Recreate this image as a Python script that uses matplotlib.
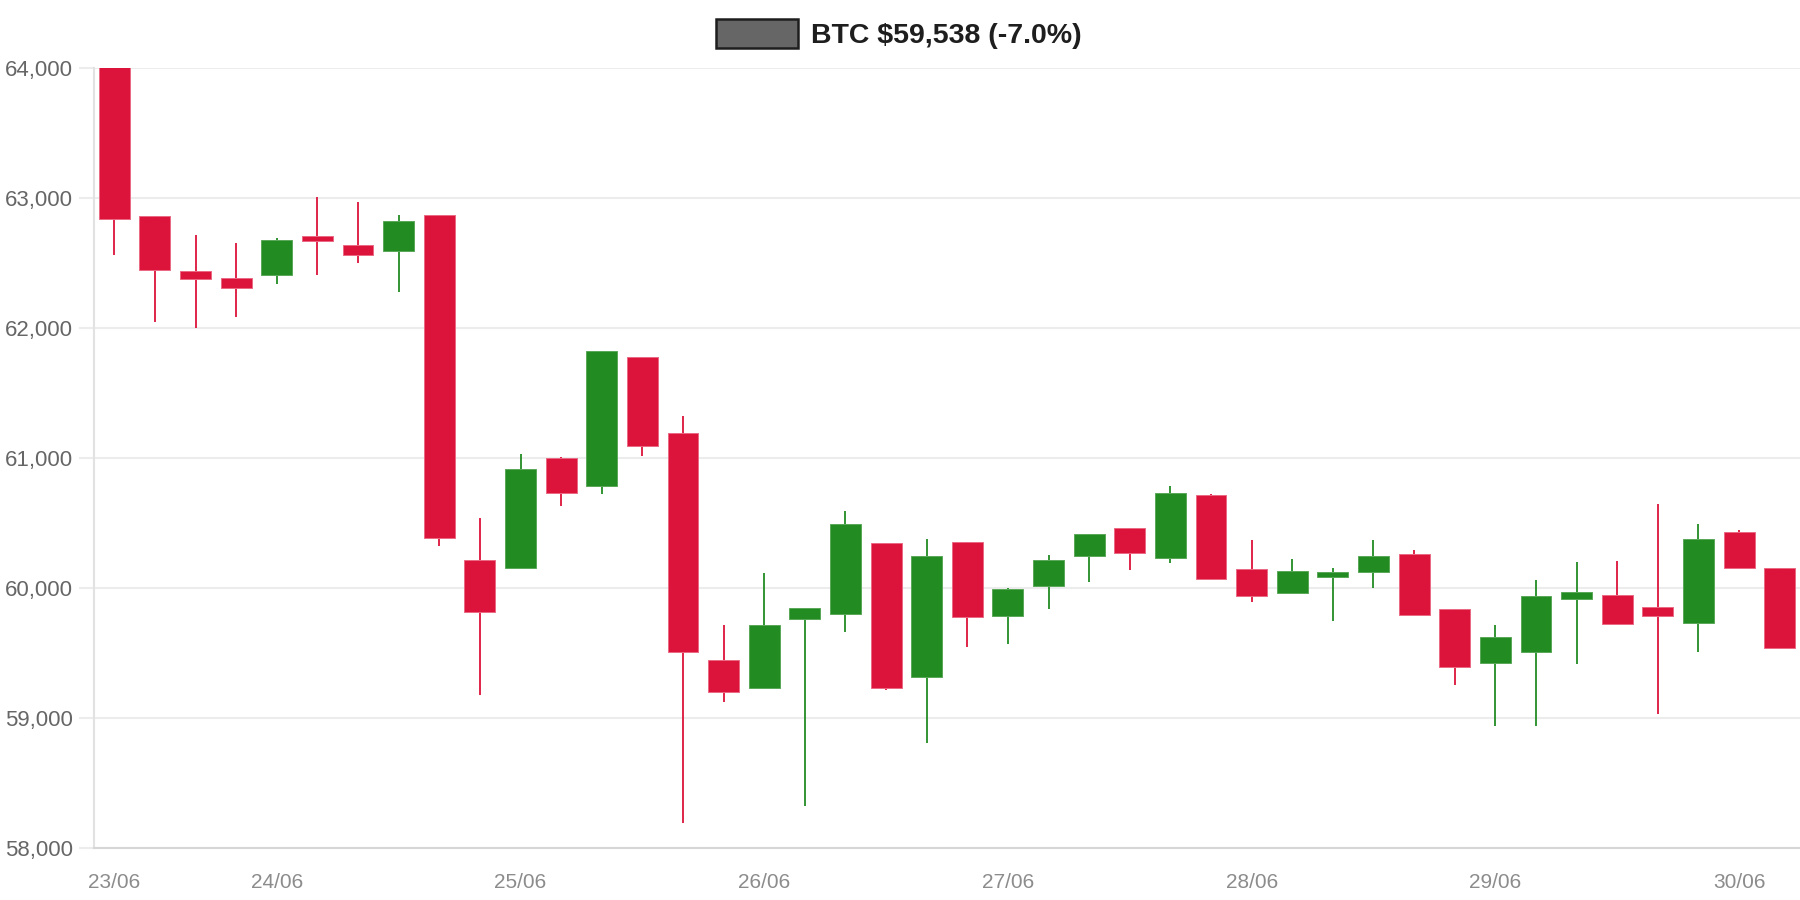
import matplotlib
matplotlib.use('Agg')
import matplotlib.pyplot as plt
from matplotlib.patches import Rectangle
import pandas as pd

plt.rcParams['font.family'] = ['Liberation Sans', 'DejaVu Sans']

# 4h BTC candles, 23/06 08:00 -> 30/06 04:00
opens = [64020, 62859, 62436, 62382, 62408, 62705, 62641, 62592, 62872, 60213,
         60151, 61000, 60782, 61777, 61195, 59449, 59233, 59764, 59800, 60344,
         59313, 60356, 59782, 60015, 60249, 60464, 60228, 60715, 60146, 59959,
         60087, 60126, 60264, 59836, 59426, 59510, 59918, 59944, 59854, 59733,
         60433, 60151]
highs = [64020, 62859, 62715, 62656, 62692, 63005, 62967, 62867, 62872, 60538,
         61031, 61008, 61823, 61777, 61323, 59713, 60113, 59844, 60592, 60344,
         60379, 60356, 60003, 60254, 60415, 60464, 60785, 60721, 60369, 60221,
         60151, 60367, 60290, 59836, 59715, 60059, 60197, 60208, 60644, 60492,
         60446, 60151]
lows = [62559, 62046, 62000, 62085, 62336, 62410, 62500, 62279, 60326, 59177,
        60151, 60633, 60721, 61013, 58190, 59123, 59233, 58323, 59662, 59215,
        58805, 59549, 59567, 59838, 60046, 60141, 60195, 60062, 59890, 59959,
        59744, 60003, 59795, 59254, 58941, 58936, 59418, 59721, 59028, 59508,
        60154, 59533]
closes = [62838, 62446, 62374, 62305, 62679, 62672, 62564, 62823, 60385, 59818,
          60918, 60733, 61823, 61090, 59508, 59203, 59713, 59844, 60490, 59228,
          60244, 59777, 59990, 60218, 60415, 60267, 60733, 60072, 59936, 60128,
          60123, 60249, 59795, 59390, 59621, 59936, 59969, 59721, 59787, 60374,
          60154, 59538]

times = pd.date_range('2024-06-23 08:00', periods=len(opens), freq='4h')
df = pd.DataFrame({'open': opens, 'high': highs, 'low': lows, 'close': closes}, index=times)

up_color = '#228b22'
down_color = '#dc143c'

fig = plt.figure(figsize=(18, 9), dpi=100)
ax = fig.add_axes([94 / 1800, 52 / 900, 1 - 94 / 1800, 780 / 900])

x = list(range(len(df)))
colors = [up_color if c >= o else down_color for o, c in zip(df['open'], df['close'])]
edges = ['#5aa85a' if c >= o else '#ea6a84' for o, c in zip(df['open'], df['close'])]
bottoms = [min(o, c) for o, c in zip(df['open'], df['close'])]
heights = [abs(c - o) for o, c in zip(df['open'], df['close'])]

ax.vlines(x, df['low'], df['high'], colors=colors, linewidth=1.3, zorder=2)
ax.bar(x, heights, bottom=bottoms, width=0.76, color=colors, edgecolor=edges,
       linewidth=0.7, zorder=3)

ax.set_xlim(-0.5, len(df) - 0.5)
ax.set_ylim(58000, 64000)
ax.set_yticks(range(58000, 64001, 1000))
ax.yaxis.set_major_formatter(matplotlib.ticker.StrMethodFormatter('{x:,.0f}'))

# label the first candle and every midnight
tick_idx = [i for i, t in enumerate(df.index) if i == 0 or t.hour == 0]
ax.set_xticks(tick_idx)
ax.set_xticklabels([df.index[i].strftime('%d/%m') for i in tick_idx])

ax.grid(axis='y', color='#ececec', linewidth=1.5, zorder=0)
ax.set_axisbelow(True)
for s in ['top', 'right']:
    ax.spines[s].set_visible(False)
ax.spines['left'].set_color('#e2e2e2')
ax.spines['bottom'].set_color('#d6d6d6')
ax.spines['left'].set_linewidth(1.5)
ax.spines['bottom'].set_linewidth(1.5)

ax.tick_params(axis='y', length=11, width=1.5, color='#ececec', labelcolor='#666666',
               labelsize=16, pad=4)
ax.tick_params(axis='x', length=0, labelcolor='#8c8c8c', labelsize=15, pad=18)

# legend box + title text
fig.patches.append(Rectangle((716 / 1800, 1 - 48 / 900), 82 / 1800, 29 / 900,
                             transform=fig.transFigure, facecolor='#666666',
                             edgecolor='#1e1e1e', linewidth=1.8))
last = df['close'].iloc[-1]
chg = (last / df['open'].iloc[0] - 1) * 100
fig.text(811 / 1800, 1 - 36 / 900, f'BTC ${last:,.0f} ({chg:.1f}%)',
         fontsize=20.5, fontweight='bold', color='#1e1e1e', va='center', ha='left')

fig.savefig('out.png', dpi=100, facecolor='white')
